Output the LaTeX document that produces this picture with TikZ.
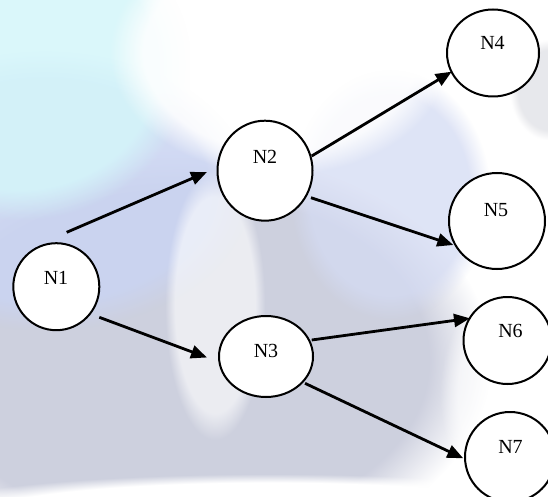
\documentclass[tikz,border=0pt]{standalone}
\usepackage{fontspec}
\setmainfont{Liberation Serif}
\usetikzlibrary{arrows.meta,shapes.geometric,fadings}
\begin{document}
\begin{tikzpicture}[x=1pt,y=-1pt,
  nodecirc/.style={ellipse,draw=black,line width=2pt,fill=white,inner sep=0pt},
  nodetext/.style={anchor=base,inner sep=0pt,font=\fontsize{20}{20}\selectfont},
  edge/.style={line width=2.8pt,-{Triangle[length=16pt,width=13pt]}},
  blob/.style={path fading=circle with fuzzy edge 20 percent}]
\useasboundingbox (0,0) rectangle (548,497);
% background watermark
\fill[white] (0,0) rectangle (548,497);
\fill[blob,fill={rgb,255:red,200;green,203;blue,219},fill opacity=0.9] (-130,150) rectangle (490,570);
\fill[blob,fill={rgb,255:red,202;green,212;blue,242},fill opacity=0.85] (-160,50) rectangle (250,330);
\fill[blob,fill={rgb,255:red,212;green,246;blue,250},fill opacity=0.85] (-150,-90) rectangle (190,220);
\fill[blob,fill={rgb,255:red,212;green,219;blue,243},fill opacity=0.75] (290,70) rectangle (490,320);
\fill[blob,fill={rgb,255:red,222;green,223;blue,228},fill opacity=0.7] (510,40) rectangle (590,140);
\fill[blob,fill=white,fill opacity=0.6] (165,170) rectangle (265,440);
\fill[blob,fill=white,fill opacity=0.85] (110,-70) rectangle (450,175);
\fill[blob,fill=white,fill opacity=0.6] (440,270) rectangle (620,520);
\fill[blob,fill=white] (-100,474) rectangle (640,560);
% nodes
\node[nodecirc,minimum width=86pt,minimum height=87pt] (n1) at (56.3,286.7) {};
\node[nodecirc,minimum width=95pt,minimum height=100pt] (n2) at (265,170.7) {};
\node[nodecirc,minimum width=94pt,minimum height=81pt] (n3) at (266,356.5) {};
\node[nodecirc,minimum width=92pt,minimum height=87pt] (n4) at (493,53) {};
\node[nodecirc,minimum width=96pt,minimum height=96pt] (n5) at (497,221) {};
\node[nodecirc,minimum width=88pt,minimum height=87pt] (n6) at (507.5,340.5) {};
\node[nodecirc,minimum width=90pt,minimum height=90pt] (n7) at (510,457) {};
\node[nodetext] (t1) at (56,284) {N1};
\node[nodetext] (t2) at (265,164) {N2};
\node[nodetext] (t3) at (266,357) {N3};
\node[nodetext] (t4) at (492.5,50) {N4};
\node[nodetext] (t5) at (496,216) {N5};
\node[nodetext] (t6) at (510.5,337) {N6};
\node[nodetext] (t7) at (510.5,453) {N7};
% connector end points
\coordinate (s12) at (66.7,232.3);  \coordinate (e12) at (207,172);
\coordinate (s13) at (99.3,317.3);  \coordinate (e13) at (207,357.5);
\coordinate (s24) at (311.7,156);   \coordinate (e24) at (451.7,71.7);
\coordinate (s25) at (311,197.7);   \coordinate (e25) at (453.3,245);
\coordinate (s36) at (311.7,340);   \coordinate (e36) at (470,318.3);
\coordinate (s37) at (305,383.3);   \coordinate (e37) at (463.3,458.3);
\draw[edge] (s12) -- (e12);
\draw[edge] (s13) -- (e13);
\draw[edge] (s24) -- (e24);
\draw[edge] (s25) -- (e25);
\draw[edge] (s36) -- (e36);
\draw[edge] (s37) -- (e37);
\end{tikzpicture}
\end{document}
